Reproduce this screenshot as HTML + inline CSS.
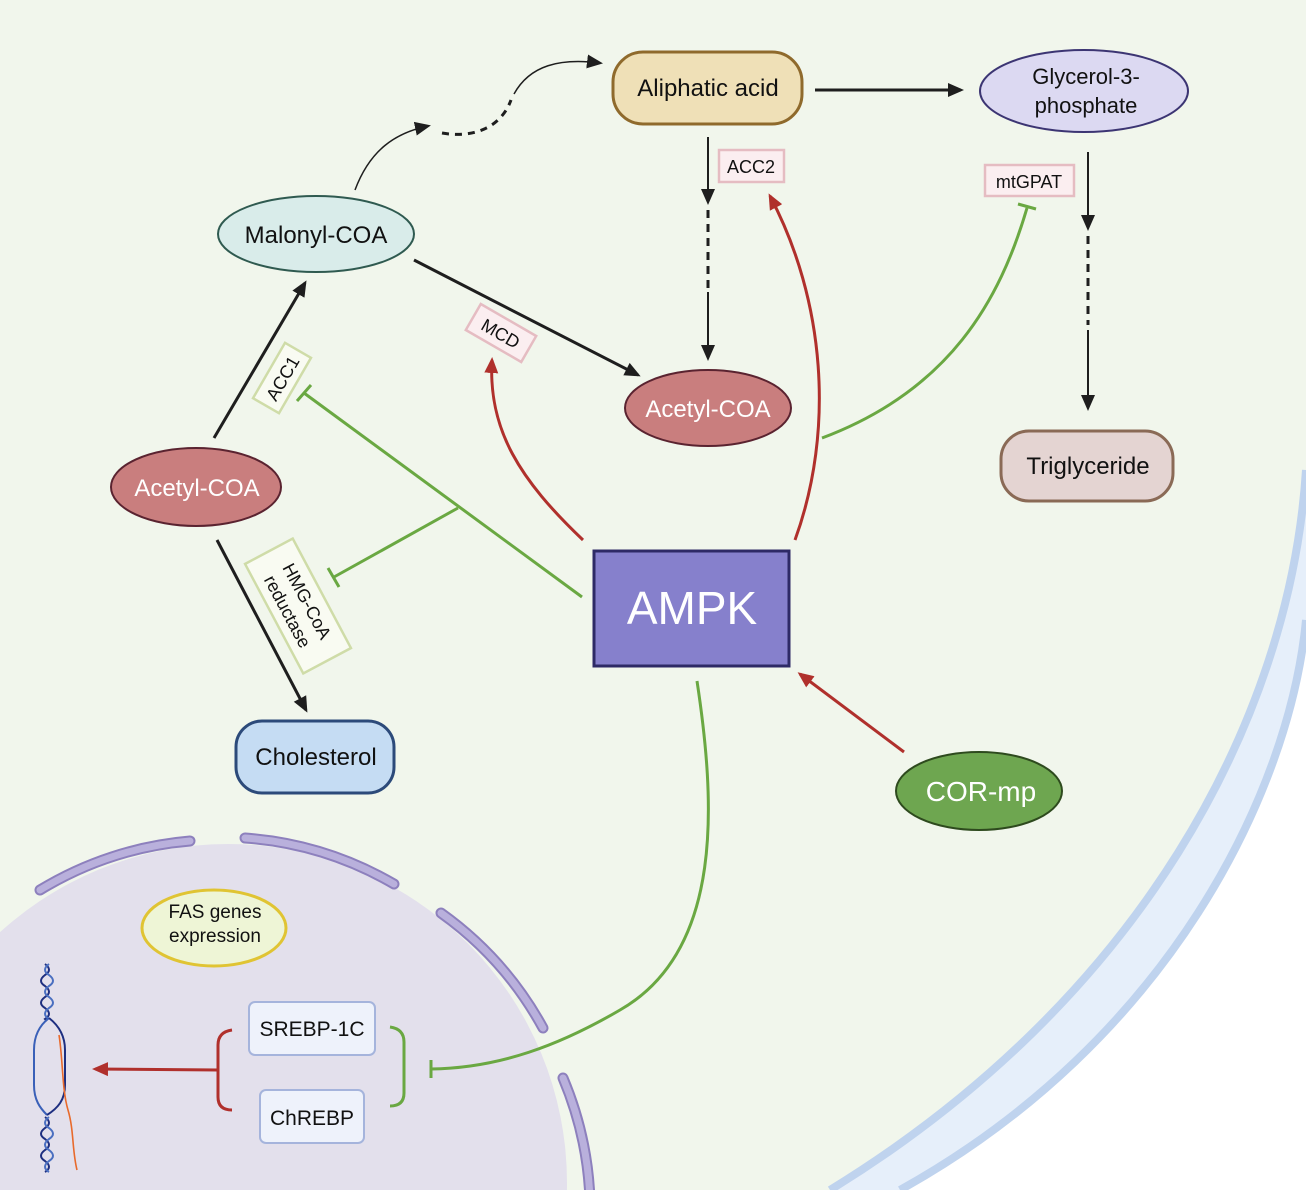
<!DOCTYPE html>
<html><head><meta charset="utf-8"><style>
html,body{margin:0;padding:0;background:#fff;overflow:hidden;width:1306px;height:1190px;}
svg{display:block;}
text{font-family:"Liberation Sans",Arial,sans-serif;}
</style></head><body>
<svg width="1306" height="1190" viewBox="0 0 1306 1190" xmlns="http://www.w3.org/2000/svg">
<defs>
<marker id="abig" markerWidth="16" markerHeight="16" refX="13" refY="8" orient="auto" markerUnits="userSpaceOnUse" viewBox="0 0 16 16"><path d="M0,1 L16,8 L0,15 Z" fill="#1e1e1e"/></marker>
<marker id="ar" markerWidth="16" markerHeight="16" refX="13" refY="8" orient="auto" markerUnits="userSpaceOnUse" viewBox="0 0 16 16"><path d="M0,1 L16,8 L0,15 Z" fill="#b0302c"/></marker>
</defs>
<rect width="1306" height="1190" fill="#fff"/>
<!-- cell -->
<path d="M0,0 H1306 V620 C1290,790 1170,1040 900,1190 H0 Z" fill="#e6effa"/>
<path d="M1306,620 C1290,790 1170,1040 900,1190" fill="none" stroke="#bfd3ee" stroke-width="8"/>
<path d="M0,0 H1306 V470 C1290,720 1140,1000 830,1190 H0 Z" fill="#f1f6ec"/>
<path d="M1306,470 C1290,720 1140,1000 830,1190" fill="none" stroke="#bfd3ee" stroke-width="8"/>
<!-- nucleus -->
<circle cx="228" cy="1183" r="339" fill="#e3e0ec"/>
<g fill="none" stroke-linecap="round">
<g stroke="#8d80bd" stroke-width="11">
<path d="M40,890 A345,345 0 0 1 190,841"/>
<path d="M245,838 A345,345 0 0 1 394,884"/>
<path d="M441,913 A345,345 0 0 1 543,1028"/>
<path d="M563,1078 A345,345 0 0 1 590,1200"/>
</g>
<g stroke="#b9b0dc" stroke-width="7">
<path d="M40,890 A345,345 0 0 1 190,841"/>
<path d="M245,838 A345,345 0 0 1 394,884"/>
<path d="M441,913 A345,345 0 0 1 543,1028"/>
<path d="M563,1078 A345,345 0 0 1 590,1200"/>
</g>
</g>

<!-- black arrows -->
<g fill="none" stroke="#1e1e1e">
<line x1="815" y1="90" x2="961" y2="90" stroke-width="3" marker-end="url(#abig)"/>
<path d="M355,190 C370,150 395,133 428,126" stroke-width="1.5" marker-end="url(#abig)"/>
<path d="M442,133 C470,138 500,130 511,100" stroke-width="3" stroke-dasharray="7,6"/>
<path d="M514,94 C530,65 560,58 600,63" stroke-width="1.5" marker-end="url(#abig)"/>
<line x1="708" y1="137" x2="708" y2="202" stroke-width="2" marker-end="url(#abig)"/>
<line x1="708" y1="210" x2="708" y2="290" stroke-width="3" stroke-dasharray="8,6"/>
<line x1="708" y1="292" x2="708" y2="358" stroke-width="2" marker-end="url(#abig)"/>
<line x1="1088" y1="152" x2="1088" y2="228" stroke-width="2" marker-end="url(#abig)"/>
<line x1="1088" y1="236" x2="1088" y2="325" stroke-width="3" stroke-dasharray="8,6"/>
<line x1="1088" y1="330" x2="1088" y2="408" stroke-width="2" marker-end="url(#abig)"/>
<line x1="414" y1="260" x2="638" y2="375" stroke-width="3" marker-end="url(#abig)"/>
<line x1="214" y1="438" x2="305" y2="283" stroke-width="3" marker-end="url(#abig)"/>
<line x1="217" y1="540" x2="306" y2="710" stroke-width="3" marker-end="url(#abig)"/>
</g>

<!-- red arrows -->
<g fill="none" stroke="#b0302c" stroke-width="3">
<path d="M583,540 C520,480 488,430 492,360" marker-end="url(#ar)"/>
<path d="M795,540 C835,430 825,300 770,196" marker-end="url(#ar)"/>
<line x1="904" y1="752" x2="800" y2="674" marker-end="url(#ar)"/>
<path d="M232,1030 Q218,1032 218,1045 L218,1097 Q218,1110 232,1110"/>
<line x1="218" y1="1070" x2="95" y2="1069" marker-end="url(#ar)"/>
</g>

<!-- green inhibition -->
<g fill="none" stroke="#6aa842" stroke-width="3">
<line x1="582" y1="597" x2="304" y2="393"/>
<line x1="297" y1="401" x2="311" y2="385"/>
<line x1="458" y1="508" x2="334" y2="577"/>
<line x1="328" y1="568" x2="339" y2="587"/>
<path d="M822,438 C950,390 1000,300 1027,208"/>
<line x1="1018" y1="204" x2="1036" y2="209"/>
<path d="M697,681 C715,800 725,950 620,1010 C560,1045 500,1068 431,1069"/>
<line x1="431" y1="1060" x2="431" y2="1078"/>
<path d="M390,1027 Q404,1029 404,1042 L404,1093 Q404,1106 390,1106"/>
</g>

<!-- DNA -->
<g fill="none" stroke-width="2">
<path d="M45,964 q8,6 0,11 q-8,6 0,11 q8,6 0,11 q-8,6 0,11 q8,6 0,11 l2,2" stroke="#1e2f80"/>
<path d="M49,964 q-8,6 0,11 q8,6 0,11 q-8,6 0,11 q8,6 0,11 q-8,6 0,11" stroke="#4a6fc0"/>
<path d="M49,1018 C40,1025 34,1035 34,1050 L34,1085 C34,1100 40,1108 47,1115" stroke="#3a60b8"/>
<path d="M49,1018 C58,1025 65,1035 65,1050 L65,1085 C65,1100 58,1108 47,1115" stroke="#1e2f80"/>
<path d="M45,1117 q8,6 0,11 q-8,6 0,11 q8,6 0,11 q-8,6 0,11 q8,6 0,11" stroke="#1e2f80"/>
<path d="M49,1117 q-8,6 0,11 q8,6 0,11 q-8,6 0,11 q8,6 0,11 q-8,6 0,11" stroke="#4a6fc0"/>
<path d="M59,1035 C63,1060 62,1090 68,1110 C74,1130 72,1150 77,1170" stroke="#e86a2c" stroke-width="1.6"/>
</g>

<!-- nodes -->
<rect x="613" y="52" width="189" height="72" rx="30" fill="#efe0b7" stroke="#8f6a2c" stroke-width="3"/>
<text x="708" y="96" font-size="24" text-anchor="middle" fill="#111">Aliphatic acid</text>

<ellipse cx="1084" cy="91" rx="104" ry="41" fill="#dcd9f2" stroke="#3c3573" stroke-width="2"/>
<text x="1086" y="84" font-size="22" text-anchor="middle" fill="#111">Glycerol-3-</text>
<text x="1086" y="113" font-size="22" text-anchor="middle" fill="#111">phosphate</text>

<ellipse cx="316" cy="234" rx="98" ry="38" fill="#d9ecea" stroke="#2f5a50" stroke-width="2"/>
<text x="316" y="243" font-size="24" text-anchor="middle" fill="#111">Malonyl-COA</text>

<ellipse cx="708" cy="408" rx="83" ry="38" fill="#c97e7e" stroke="#5a2330" stroke-width="2"/>
<text x="708" y="417" font-size="24" text-anchor="middle" fill="#fff">Acetyl-COA</text>

<ellipse cx="196" cy="487" rx="85" ry="39" fill="#c97e7e" stroke="#5a2330" stroke-width="2"/>
<text x="197" y="496" font-size="24" text-anchor="middle" fill="#fff">Acetyl-COA</text>

<rect x="1001" y="431" width="172" height="70" rx="28" fill="#e4d4d2" stroke="#8a6a56" stroke-width="3"/>
<text x="1088" y="474" font-size="24" text-anchor="middle" fill="#111">Triglyceride</text>

<rect x="594" y="551" width="195" height="115" fill="#8680cc" stroke="#2e2a66" stroke-width="3"/>
<text x="692" y="624" font-size="46" text-anchor="middle" fill="#fff">AMPK</text>

<rect x="236" y="721" width="158" height="72" rx="26" fill="#c5dcf3" stroke="#2c4a7a" stroke-width="3"/>
<text x="316" y="765" font-size="24" text-anchor="middle" fill="#111">Cholesterol</text>

<ellipse cx="979" cy="791" rx="83" ry="39" fill="#6ea650" stroke="#2e4a1e" stroke-width="2"/>
<text x="981" y="801" font-size="28" text-anchor="middle" fill="#fff">COR-mp</text>

<ellipse cx="214" cy="928" rx="72" ry="38" fill="#eef5d6" stroke="#e0c433" stroke-width="3"/>
<text x="215" y="918" font-size="19" text-anchor="middle" fill="#111">FAS genes</text>
<text x="215" y="942" font-size="19" text-anchor="middle" fill="#111">expression</text>

<rect x="249" y="1002" width="126" height="53" rx="6" fill="#eef2fb" stroke="#a5b4dc" stroke-width="2"/>
<text x="312" y="1036" font-size="21" text-anchor="middle" fill="#111">SREBP-1C</text>
<rect x="260" y="1090" width="104" height="53" rx="6" fill="#eef2fb" stroke="#a5b4dc" stroke-width="2"/>
<text x="312" y="1125" font-size="21" text-anchor="middle" fill="#111">ChREBP</text>

<!-- enzyme labels -->
<rect x="719" y="150" width="65" height="32" fill="#fbeef0" stroke="#e5bcc2" stroke-width="2.5"/>
<text x="751" y="173" font-size="18" text-anchor="middle" fill="#111">ACC2</text>
<rect x="985" y="165" width="89" height="31" fill="#fbeef0" stroke="#e5bcc2" stroke-width="2.5"/>
<text x="1029" y="188" font-size="18" text-anchor="middle" fill="#111">mtGPAT</text>
<g transform="translate(501,333) rotate(30)">
<rect x="-32" y="-15" width="64" height="30" fill="#fbeef0" stroke="#e5bcc2" stroke-width="2.5"/>
<text x="0" y="7" font-size="18" text-anchor="middle" fill="#111">MCD</text>
</g>
<g transform="translate(282,378) rotate(-60)">
<rect x="-32" y="-15" width="64" height="30" fill="#f9fbf2" stroke="#cfdca8" stroke-width="2.5"/>
<text x="0" y="7" font-size="18" text-anchor="middle" fill="#111">ACC1</text>
</g>
<g transform="translate(298,606) rotate(62)">
<rect x="-62" y="-27" width="124" height="54" fill="#f9fbf2" stroke="#cfdca8" stroke-width="2.5"/>
<text x="0" y="-4" font-size="18" text-anchor="middle" fill="#111">HMG-CoA</text>
<text x="0" y="18" font-size="18" text-anchor="middle" fill="#111">reductase</text>
</g>
</svg>
</body></html>
